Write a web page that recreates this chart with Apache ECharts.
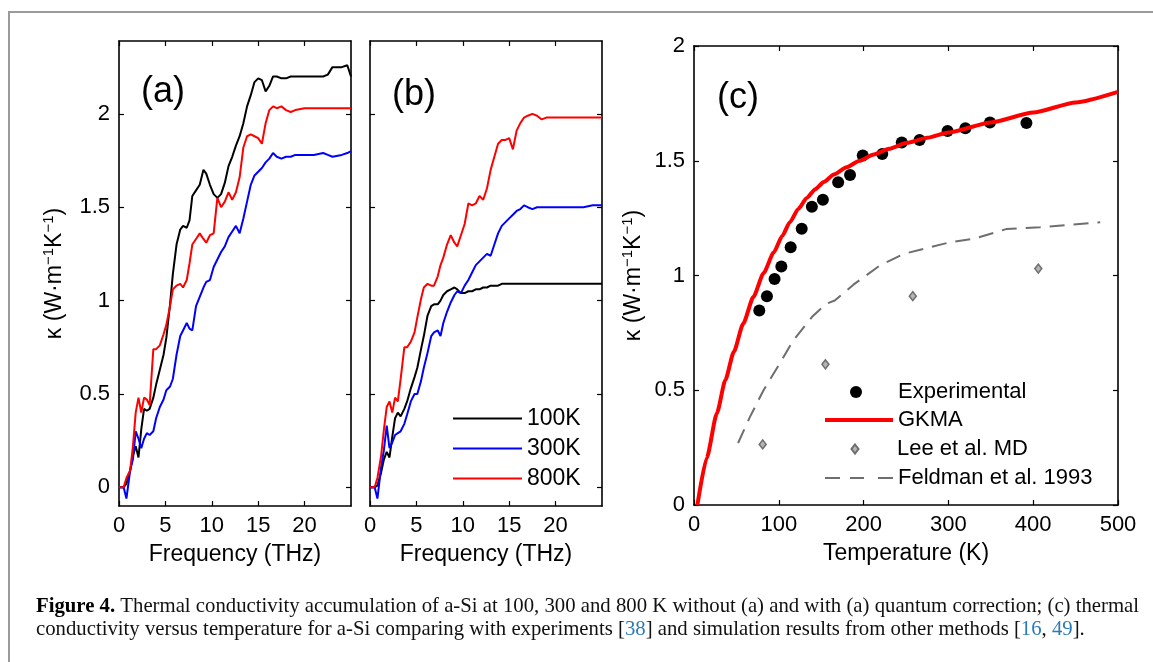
<!DOCTYPE html>
<html><head><meta charset="utf-8">
<script src="https://cdn.jsdelivr.net/npm/echarts@6/dist/echarts.min.js"></script>
<style>html,body{margin:0;padding:0;background:#fff}#c{width:1153px;height:662px}</style>
</head><body><div id="c"></div><script>
// ---------- data ----------
const freq = [0, 0.5, 0.8, 1.2, 1.5, 1.8, 2.1, 2.4, 2.7, 3.0, 3.3, 3.7, 4.0, 4.4, 4.8, 5.1, 5.5, 5.8, 6.2, 6.6, 6.9, 7.3, 7.6, 7.9, 8.3, 8.7, 9.1, 9.4, 9.8, 10.2, 10.6, 11.0, 11.4, 11.8, 12.2, 12.6, 13.0, 13.4, 13.8, 14.2, 14.6, 15.0, 15.4, 15.8, 16.2, 16.6, 17.0, 17.5, 18.0, 18.5, 19, 20, 21, 22, 22.5, 23, 24, 24.6, 25];
// (a) without quantum correction
const a100K = [0,0,0.02,0.09,0.17,0.22,0.16,0.31,0.42,0.41, 0.42,0.48,0.55,0.63,0.71,0.80,0.98,1.14,1.30,1.38, 1.40,1.39,1.43,1.56,1.59,1.62,1.70,1.68,1.62,1.57, 1.55,1.57,1.63,1.72,1.77,1.83,1.88,1.95,2.04,2.10, 2.17,2.19,2.18,2.12,2.15,2.20,2.20,2.19,2.19,2.20, 2.20,2.20,2.20,2.20,2.21,2.25,2.25,2.26,2.20];
const a300K = [0,0,-0.06,0.09,0.15,0.30,0.26,0.21,0.26,0.29, 0.28,0.30,0.37,0.43,0.47,0.52,0.54,0.58,0.71,0.81, 0.84,0.88,0.85,0.84,0.97,1.02,1.07,1.10,1.11,1.18, 1.22,1.26,1.29,1.34,1.37,1.40,1.36,1.44,1.53,1.62, 1.67,1.69,1.71,1.74,1.76,1.79,1.77,1.76,1.77,1.77, 1.78,1.78,1.78,1.79,1.78,1.77,1.78,1.79,1.80];
const a800K = [0,0,0.05,0.09,0.22,0.40,0.48,0.40,0.48,0.47, 0.44,0.74,0.74,0.76,0.82,0.87,0.97,1.06,1.08,1.09, 1.07,1.11,1.20,1.30,1.33,1.36,1.33,1.31,1.35,1.36, 1.55,1.50,1.53,1.58,1.54,1.58,1.66,1.82,1.88,1.89, 1.88,1.87,1.84,1.95,2.02,2.04,2.03,2.04,2.02,2.01, 2.02,2.03,2.03,2.03,2.03,2.03,2.03,2.03,2.03];
// (b) with quantum correction
const b100K = [0,0,0.01,0.08,0.15,0.19,0.16,0.27,0.37,0.40, 0.38,0.42,0.46,0.53,0.59,0.64,0.74,0.81,0.92,0.97, 0.98,0.98,1.00,1.03,1.05,1.06,1.07,1.06,1.04,1.04, 1.05,1.05,1.06,1.06,1.07,1.07,1.08,1.08,1.08,1.09, 1.09,1.09,1.09,1.09,1.09,1.09,1.09,1.09,1.09,1.09, 1.09,1.09,1.09,1.09,1.09,1.09,1.09,1.09,1.09];
const b300K = [0,0,-0.06,0.11,0.20,0.33,0.21,0.24,0.28,0.29, 0.30,0.34,0.39,0.46,0.50,0.50,0.57,0.64,0.72,0.81, 0.83,0.84,0.81,0.88,0.94,0.99,1.03,1.05,1.04,1.08, 1.11,1.15,1.19,1.21,1.23,1.25,1.24,1.30,1.36,1.40, 1.42,1.44,1.46,1.48,1.49,1.51,1.50,1.49,1.50,1.50, 1.50,1.50,1.50,1.50,1.50,1.50,1.51,1.51,1.51];
const b800K = [0,0,0.05,0.17,0.31,0.43,0.46,0.40,0.48,0.46, 0.58,0.75,0.75,0.78,0.83,0.91,1.01,1.07,1.09,1.08, 1.08,1.13,1.19,1.23,1.30,1.35,1.31,1.29,1.35,1.41, 1.52,1.51,1.52,1.56,1.54,1.60,1.70,1.77,1.84,1.86, 1.86,1.87,1.81,1.91,1.95,1.98,1.99,2.00,1.99,1.97, 1.98,1.98,1.98,1.98,1.98,1.98,1.98,1.98,1.98];
// (c) conductivity vs temperature
const expT = [77, 86, 95, 103, 114, 127, 139, 152, 170, 184, 199, 222, 245, 266, 299, 320, 349, 392];
const expK = [0.848, 0.91, 0.985, 1.039, 1.123, 1.204, 1.30, 1.33, 1.406, 1.438, 1.523, 1.529, 1.58, 1.59, 1.63, 1.642, 1.667, 1.664];
const gkmaT = [4, 15, 27, 37, 47, 58, 70, 82, 94, 104, 113, 123, 133, 143, 153, 165, 180, 195, 212, 230, 251, 275, 300, 350, 400, 450, 500];
const gkmaK = [0, 0.205, 0.40, 0.545, 0.668, 0.79, 0.906, 1.01, 1.10, 1.172, 1.232, 1.29, 1.338, 1.376, 1.407, 1.44, 1.472, 1.50, 1.527, 1.552, 1.578, 1.60, 1.623, 1.667, 1.71, 1.754, 1.80];
const leeT = [81, 155, 258, 406];
const leeK = [0.264, 0.613, 0.91, 1.03];
const feldT = [52, 66, 82, 101, 117, 139, 156, 166, 188, 219, 247, 302, 330, 369, 408, 479];
const feldK = [0.27, 0.384, 0.50, 0.616, 0.717, 0.819, 0.877, 0.891, 0.96, 1.043, 1.094, 1.145, 1.16, 1.203, 1.21, 1.232];
// tick labels
const freqTicks = [0, 5, 10, 15, 20];
const kTicksAB = [0, 0.5, 1, 1.5, 2];
const tempTicks = [0, 100, 200, 300, 400, 500];
const kTicksC = [0, 0.5, 1, 1.5, 2];
const legendB = ['100K', '300K', '800K'];
const legendC = ['Experimental', 'GKMA', 'Lee et al. MD', 'Feldman et al. 1993'];

// ---------- helpers ----------
const FONT = 'Liberation Sans, Arial, Helvetica, sans-serif';
const zip = (xs, ys) => xs.map((x, i) => [x, ys[i]]);
const kName = '{n|κ (W·m}{s|−1}{n|K}{s|−1}{n|)}';
const nameRich = {
  n: { fontSize: 23, fontFamily: FONT, color: '#000', lineHeight: 28 },
  s: { fontSize: 15, fontFamily: FONT, color: '#000', lineHeight: 16, verticalAlign: 'top' }
};
const axLine = { onZero: false, lineStyle: { color: '#000', width: 1.6 } };
const tickStyle = { color: '#000', width: 1.2 };

function xPair(grid, min, max, ticks, name) {
  const base = { type: 'value', gridIndex: grid, min, max, splitLine: { show: false }, axisLine: axLine };
  return [
    Object.assign({}, base, {
      position: 'bottom',
      axisTick: { inside: true, length: 5, customValues: ticks, lineStyle: tickStyle },
      axisLabel: { customValues: ticks, color: '#000', fontSize: 22, fontFamily: FONT, margin: 9 },
      name, nameLocation: 'middle', nameGap: 37, nameMoveOverlap: false,
      nameTextStyle: { color: '#000', fontSize: 23, fontFamily: FONT }
    }),
    Object.assign({}, base, {
      position: 'top',
      axisTick: { inside: true, length: 5, customValues: ticks, lineStyle: tickStyle },
      axisLabel: { show: false }
    })
  ];
}
function yPair(grid, min, max, ticks, showLabels, name, gap) {
  const base = { type: 'value', gridIndex: grid, min, max, splitLine: { show: false }, axisLine: axLine };
  const left = Object.assign({}, base, {
    position: 'left',
    axisTick: { inside: true, length: 5, customValues: ticks, lineStyle: tickStyle },
    axisLabel: { show: showLabels, customValues: ticks, color: '#000', fontSize: 22, fontFamily: FONT, margin: 9,
                 formatter: v => String(v) }
  });
  if (name) {
    Object.assign(left, { name, nameLocation: 'middle', nameGap: gap, nameMoveOverlap: false,
      nameTextStyle: { rich: nameRich, fontSize: 23, fontFamily: FONT, color: '#000' } });
  }
  return [left, Object.assign({}, base, {
    position: 'right',
    axisTick: { inside: true, length: 5, customValues: ticks, lineStyle: tickStyle },
    axisLabel: { show: false }
  })];
}
function curve(name, xi, ys, color) {
  return { type: 'line', name, xAxisIndex: xi, yAxisIndex: xi, data: zip(freq, ys), symbol: 'none',
           lineStyle: { color, width: 2 }, itemStyle: { color }, silent: true };
}
const legText = (size, pad) => ({ fontSize: size, fontFamily: FONT, color: '#000', padding: [0, 0, 0, pad] });
const lineIcon = 'path://M0,0H68V2H0Z';

const option = {
  animation: false,
  backgroundColor: '#fff',
  grid: [
    { left: 119, top: 41, width: 232, height: 465, containLabel: false, outerBoundsMode: 'none' },
    { left: 370, top: 41, width: 232, height: 465, containLabel: false, outerBoundsMode: 'none' },
    { left: 694, top: 46, width: 424, height: 459, containLabel: false, outerBoundsMode: 'none' }
  ],
  xAxis: [
    ...xPair(0, 0, 25, freqTicks, 'Frequency (THz)'),
    ...xPair(1, 0, 25, freqTicks, 'Frequency (THz)'),
    ...xPair(2, 0, 500, tempTicks, 'Temperature (K)')
  ],
  yAxis: [
    ...yPair(0, -0.1, 2.39, kTicksAB, true, kName, 50),
    ...yPair(1, -0.1, 2.39, kTicksAB, false, null, 0),
    ...yPair(2, 0, 2, kTicksC, true, kName, 46)
  ],
  legend: [
    { data: legendB.map(n => ({ name: n, icon: lineIcon })), orient: 'vertical', left: 448, top: 402,
      itemWidth: 69, itemHeight: 14, itemGap: 7, selectedMode: false, itemStyle: { borderWidth: 0 },
      textStyle: legText(23, 0) },
    { data: [{ name: legendC[0], icon: 'circle' }], left: 845, top: 376, itemWidth: 68, itemHeight: 12,
      selectedMode: false, itemStyle: { borderWidth: 0 }, textStyle: legText(22, 3) },
    { data: [{ name: legendC[1], icon: 'path://M0,0H68V4H0Z' }], left: 820, top: 404, itemWidth: 68, itemHeight: 14,
      selectedMode: false, itemStyle: { borderWidth: 0 }, textStyle: legText(22, 0) },
    { data: [{ name: legendC[2], icon: 'path://M3.5,0L7,4.5L3.5,9L0,4.5Z' }], left: 845.5, top: 433, itemWidth: 68, itemHeight: 9,
      selectedMode: false, textStyle: legText(22, 3) },
    { data: [{ name: legendC[3], icon: 'path://M0,0H15V2H0Z M25,0H39V2H25Z M53,0H68V2H53Z' }], left: 820, top: 462,
      itemWidth: 68, itemHeight: 14, selectedMode: false, itemStyle: { borderWidth: 0 }, textStyle: legText(22, 0) }
  ],
  series: [
    curve('100K', 0, a100K, '#000000'),
    curve('300K', 0, a300K, '#0000ff'),
    curve('800K', 0, a800K, '#ff0000'),
    curve('100K', 2, b100K, '#000000'),
    curve('300K', 2, b300K, '#0000ff'),
    curve('800K', 2, b800K, '#ff0000'),
    { type: 'line', name: legendC[3], xAxisIndex: 4, yAxisIndex: 4, data: zip(feldT, feldK), symbol: 'none',
      lineStyle: { color: '#6e6e6e', width: 2, type: [15, 9] }, itemStyle: { color: '#6e6e6e' } },
    { type: 'scatter', name: legendC[2], xAxisIndex: 4, yAxisIndex: 4, data: zip(leeT, leeK), symbol: 'diamond',
      symbolSize: [7, 9], itemStyle: { color: '#b4b4b4', borderColor: '#6e6e6e', borderWidth: 1.5, opacity: 1 } },
    { type: 'line', name: legendC[1], xAxisIndex: 4, yAxisIndex: 4, data: zip(gkmaT, gkmaK), symbol: 'none',
      smooth: 0.2, smoothMonotone: 'x', lineStyle: { color: '#ff0000', width: 4 }, itemStyle: { color: '#ff0000' } },
    { type: 'scatter', name: legendC[0], xAxisIndex: 4, yAxisIndex: 4, data: zip(expT, expK), symbol: 'circle',
      symbolSize: 12, itemStyle: { color: '#000', opacity: 1 } }
  ],
  graphic: [
    { type: 'line', shape: { x1: 8, y1: 12, x2: 1153, y2: 12 }, style: { stroke: '#9a9a9a', lineWidth: 2 } },
    { type: 'line', shape: { x1: 9, y1: 12, x2: 9, y2: 662 }, style: { stroke: '#9a9a9a', lineWidth: 2 } },
    { type: 'text', x: 141, y: 74, style: { text: '(a)', fontSize: 36, fontFamily: FONT, fill: '#000' } },
    { type: 'text', x: 392, y: 77, style: { text: '(b)', fontSize: 36, fontFamily: FONT, fill: '#000' } },
    { type: 'text', x: 717, y: 80, style: { text: '(c)', fontSize: 36, fontFamily: FONT, fill: '#000' } },
    { type: 'text', x: 36, y: 595, style: {
        text: '{b|Figure 4.} Thermal conductivity accumulation of a-Si at 100, 300 and 800 K without (a) and with (a) quantum correction; (c) thermal\n' +
              'conductivity versus temperature for a-Si comparing with experiments [{c|38}] and simulation results from other methods [{c|16}, {c|49}].',
        fontSize: 20.75, fontFamily: 'Liberation Serif, Times New Roman, serif', fill: '#111', lineHeight: 23,
        rich: {
          b: { fontWeight: 'bold', fontSize: 20.75, fontFamily: 'Liberation Serif, serif', fill: '#000', lineHeight: 23 },
          c: { fontSize: 20.75, fontFamily: 'Liberation Serif, serif', fill: '#2b7bba', lineHeight: 23 }
        } } }
  ]
};
const chart = echarts.init(document.getElementById('c'), null, { renderer: 'canvas' });
chart.setOption(option);
</script></body></html>
